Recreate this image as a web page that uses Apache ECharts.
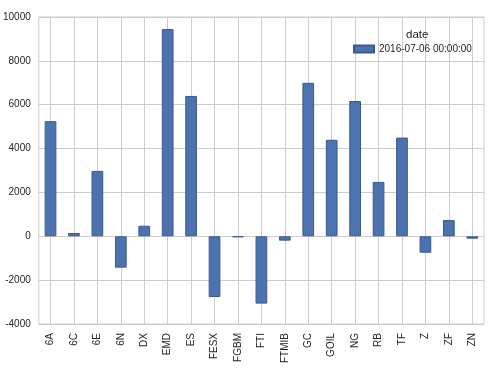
<!DOCTYPE html>
<html>
<head>
<meta charset="utf-8">
<script src="https://cdn.jsdelivr.net/npm/echarts@6/dist/echarts.min.js"></script>
<style>html,body{margin:0;padding:0;background:#fff;}#c{width:497px;height:373px;}</style>
</head>
<body>
<div id="c"></div>
<script>
const categories = ['6A','6C','6E','6N','DX','EMD','ES','FESX','FGBM','FTI','FTMIB','GC','GOIL','NG','RB','TF','Z','ZF','ZN'];
const values = [5250, 150, 2980, -1430, 480, 9450, 6400, -2770, -40, -3070, -200, 7000, 4400, 6170, 2480, 4500, -750, 740, -110];
const seriesName = '2016-07-06 00:00:00';
const legendTitle = 'date';
const yTicks = {min: -4000, max: 10000, interval: 2000};

const chart = echarts.init(document.getElementById('c'), null, {renderer: 'canvas'});
const font = 'Liberation Sans, Arial, sans-serif';
chart.setOption({
  animation: false,
  backgroundColor: '#ffffff',
  title: {
    text: legendTitle, left: 401, top: 24,
    textStyle: {fontFamily: font, fontSize: 11.5, fontWeight: 'normal', color: '#262626'}
  },
  legend: {
    data: [seriesName], left: 348, top: 39, itemWidth: 20, itemHeight: 7, itemGap: 5,
    icon: 'rect',
    textStyle: {fontFamily: font, fontSize: 10, color: '#262626'}
  },
  grid: {left: 37, right: 13, top: 17, bottom: 49, show: true, borderColor: '#cccccc', borderWidth: 1},
  xAxis: {
    type: 'category', data: categories,
    axisLine: {show: false}, axisTick: {show: false},
    splitLine: {show: true, alignWithLabel: true, lineStyle: {color: '#cccccc', width: 1}},
    axisLabel: {rotate: 90, interval: 0, margin: 9, fontFamily: font, fontSize: 10, color: '#262626'}
  },
  yAxis: {
    type: 'value', min: yTicks.min, max: yTicks.max, interval: yTicks.interval,
    axisLine: {show: false}, axisTick: {show: false},
    splitLine: {show: true, lineStyle: {color: '#cccccc', width: 1}},
    axisLabel: {margin: 8, fontFamily: font, fontSize: 10, color: '#262626', formatter: v => String(v)}
  },
  series: [{
    name: seriesName, type: 'bar', data: values, barWidth: '50%',
    itemStyle: {color: '#4c72b0', borderColor: '#3b5a8c', borderWidth: 1}
  }]
});
</script>
</body>
</html>
